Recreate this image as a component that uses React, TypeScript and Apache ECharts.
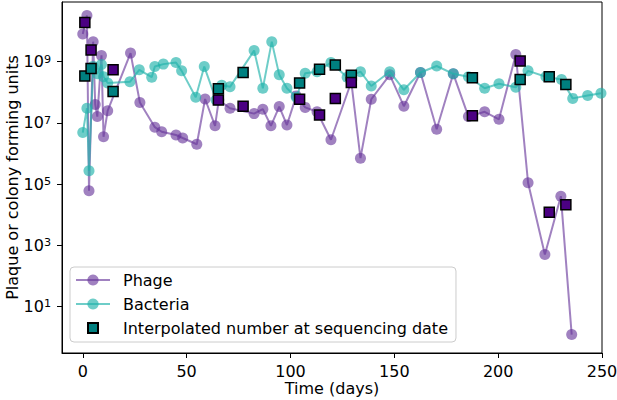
import React, { useEffect, useRef } from "react";
import * as echarts from "echarts";

const phageDays = [0, 2, 3, 5, 6, 7, 9, 10, 12, 23, 27.5, 34.7, 38, 44.9, 48.1, 54.9, 58.9, 63.7, 65.5, 70.9, 82.5, 86.7, 90.6, 94.6, 98.3, 102.8, 107.1, 112.8, 119.5, 129.3, 133.7, 138.9, 147.8, 154.6, 162.6, 170.4, 178.4, 185.7, 193.5, 200.4, 208.5, 214.4, 222.5, 230.2, 235.4];
const phageCounts = [8e9, 3.2e10, 6e4, 4.5e9, 4e7, 1.6e7, 1.6e9, 3.5e6, 2.5e7, 1.9e9, 4.6e7, 7.2e6, 5.1e6, 4e6, 3.2e6, 2e6, 6e7, 8e6, 5.6e7, 3e7, 2e7, 2.8e7, 8e6, 3.4e7, 8.5e6, 7.6e7, 3.2e7, 2.3e7, 2.8e6, 2.2e8, 7e5, 5.9e7, 3.7e8, 3.5e7, 4.4e8, 6.2e6, 4e8, 1.6e7, 2.3e7, 1.3e7, 1.7e9, 1.1e5, 5e2, 4e4, 1.2];

const bacteriaDays = [0, 2, 3, 5, 7, 9, 10, 12, 22.7, 27.2, 33.2, 34.7, 38.8, 44.9, 47.6, 54.4, 58.5, 64.2, 66.9, 70.9, 82.5, 86.7, 91.0, 94.6, 98.3, 102.8, 107.1, 112.8, 119.5, 127.3, 133.7, 138.9, 147.8, 154.6, 162.6, 170.4, 178.4, 185.7, 193.5, 200.4, 208.5, 214.4, 223, 230.5, 235.9, 243.1, 249.5];
const bacteriaCounts = [4.8e6, 3e7, 2.7e5, 7e8, 4e8, 8e8, 3.2e8, 2e8, 2.2e8, 5.4e8, 3.1e8, 6.9e8, 8.3e8, 9.3e8, 5e8, 6.9e7, 6.9e8, 5.6e7, 1.7e8, 1.5e8, 2.3e9, 1.35e8, 4.5e9, 3.7e8, 1.35e8, 6.9e7, 4.2e8, 4.7e8, 9.3e8, 3.1e8, 4.7e8, 1.6e8, 4.7e8, 1.2e8, 4.4e8, 7.2e8, 4e8, 3.2e8, 1.35e8, 1.9e8, 1.45e8, 5e8, 3.2e8, 2.6e8, 6.3e7, 7.8e7, 9.3e7];

const sequencingDays = [1, 4, 14.6, 65.3, 77.2, 104.4, 114, 121.6, 129.3, 187.6, 210.6, 224.6, 232.6];
const phageInterpolated = [1.9e10, 2.4e9, 5.4e8, 5.6e7, 3.5e7, 5.9e7, 1.8e7, 6.3e7, 2.1e8, 1.7e7, 1.05e9, 1.2e4, 2.1e4];
const bacteriaInterpolated = [3.4e8, 6e8, 1.05e8, 1.3e8, 4.4e8, 2e8, 5.6e8, 7.8e8, 3.6e8, 3e8, 2.6e8, 3.2e8, 1.8e8];

const xTicks = [0, 50, 100, 150, 200, 250];
const yTicks = [10, 1e3, 1e5, 1e7, 1e9];
const yTickExponents = ["1", "3", "5", "7", "9"];

const FONT = "DejaVu Sans";
const FS = 16;

const zip = (xs: number[], ys: number[]) => xs.map((x, i) => [x, ys[i]]);

export default function App() {
  const ref = useRef<HTMLDivElement>(null);
  useEffect(() => {
    if (!ref.current) return;
    const chart = echarts.init(ref.current, undefined, { renderer: "svg" });
    chart.setOption({
      animation: false,
      textStyle: { fontFamily: FONT },
      grid: {
        left: 62,
        right: 15,
        top: 2,
        bottom: 47,
        show: true,
        borderColor: "#000",
        borderWidth: 1,
        containLabel: false,
        outerBoundsMode: "none",
      },
      legend: {
        orient: "vertical",
        left: 70,
        top: 267,
        padding: [5, 8, 6, 5],
        itemGap: 8,
        itemWidth: 34,
        itemHeight: 14,
        symbolKeepAspect: true,
        borderColor: "#cccccc",
        borderWidth: 1,
        borderRadius: 4,
        backgroundColor: "rgba(255,255,255,0.8)",
        textStyle: { fontFamily: FONT, fontSize: FS, color: "#000", padding: [0, 0, 0, 8] },
        data: [
          { name: "Phage" },
          { name: "Bacteria" },
          {
            name: "Interpolated number at sequencing date",
            icon: "path://M0,0M14,14M2,2L12,2L12,12L2,12Z",
          },
        ],
      },
      xAxis: {
        type: "value",
        min: -10,
        max: 250,
        name: "Time (days)",
        nameLocation: "middle",
        nameGap: 27,
        nameMoveOverlap: false,
        nameTextStyle: { fontFamily: FONT, fontSize: FS, color: "#000" },
        splitLine: { show: false },
        axisLine: { show: true, onZero: false, lineStyle: { color: "#000", width: 1 } },
        axisTick: { show: true, length: 5, customValues: xTicks, lineStyle: { color: "#000" } },
        axisLabel: {
          customValues: xTicks,
          margin: 10,
          fontFamily: FONT,
          fontSize: FS,
          color: "#000",
        },
      },
      yAxis: {
        type: "log",
        logBase: 10,
        min: 0.3,
        max: 8.9e10,
        name: "Plaque or colony forming units",
        nameLocation: "middle",
        nameGap: 42,
        nameMoveOverlap: false,
        nameTextStyle: { fontFamily: FONT, fontSize: FS, color: "#000" },
        splitLine: { show: false },
        minorTick: { show: false },
        axisLine: { show: true, onZero: false, lineStyle: { color: "#000", width: 1 } },
        axisTick: { show: true, length: 5, customValues: yTicks, lineStyle: { color: "#000" } },
        axisLabel: {
          customValues: yTicks,
          margin: 11,
          fontFamily: FONT,
          color: "#000",
          formatter: (v: number) => {
            const i = yTicks.findIndex((t) => Math.abs(Math.log10(t) - Math.log10(v)) < 0.01);
            return i >= 0 ? `{b|10}{s|${yTickExponents[i]}}` : "";
          },
          rich: {
            b: { fontFamily: FONT, fontSize: FS, lineHeight: 16, color: "#000", padding: [4, 0, 4, 0] },
            s: { fontFamily: FONT, fontSize: 11.2, lineHeight: 11, color: "#000", verticalAlign: "top" },
          },
        },
      },
      series: [
        {
          name: "Phage",
          type: "line",
          data: zip(phageDays, phageCounts),
          symbol: "circle",
          symbolSize: 11,
          itemStyle: { color: "#663399", opacity: 0.62 },
          lineStyle: { color: "#663399", width: 2, opacity: 0.62 },
          z: 2,
        },
        {
          name: "Bacteria",
          type: "line",
          data: zip(bacteriaDays, bacteriaCounts),
          symbol: "circle",
          symbolSize: 11,
          itemStyle: { color: "#20B2AA", opacity: 0.65 },
          lineStyle: { color: "#20B2AA", width: 2, opacity: 0.65 },
          z: 3,
        },
        {
          name: "Interpolated number at sequencing date",
          type: "scatter",
          data: zip(sequencingDays, bacteriaInterpolated),
          symbol: "rect",
          symbolSize: 10,
          itemStyle: { color: "#008080", borderColor: "#000", borderWidth: 1.5, opacity: 1 },
          z: 5,
        },
        {
          name: "Phage interpolated",
          type: "scatter",
          data: zip(sequencingDays, phageInterpolated),
          symbol: "rect",
          symbolSize: 10,
          itemStyle: { color: "#4B0082", borderColor: "#000", borderWidth: 1.5, opacity: 1 },
          z: 5,
        },
      ],
    });
    return () => chart.dispose();
  }, []);
  return (
    <div
      ref={ref}
      style={{ position: "absolute", left: 0, top: 0, width: 617, height: 400, overflow: "hidden" }}
    />
  );
}
